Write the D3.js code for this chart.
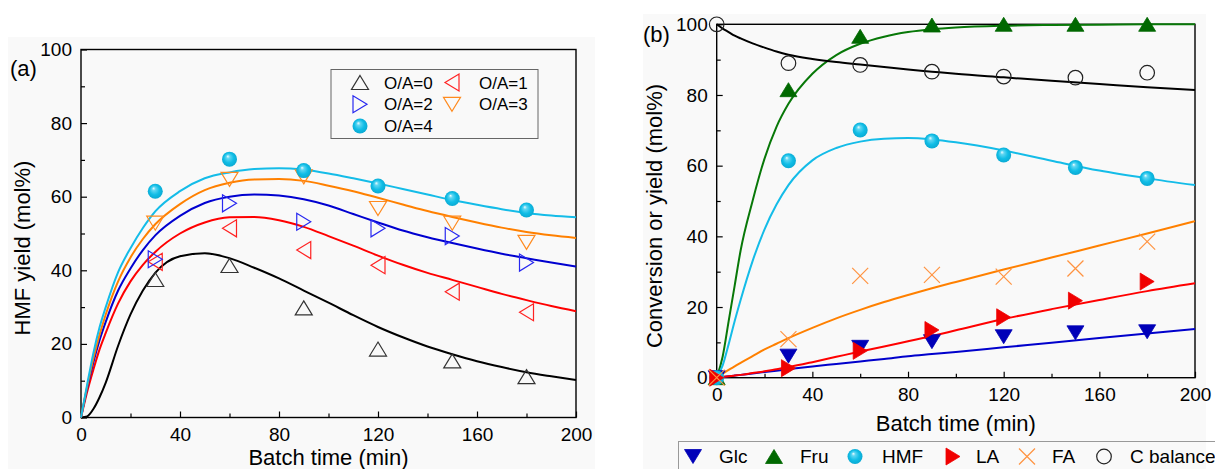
<!DOCTYPE html>
<html>
<head>
<meta charset="utf-8">
<script src="https://cdn.jsdelivr.net/npm/d3@7"></script>
<style>
  body { margin: 0; background: #fff; }
  svg { display: block; font-family: "Liberation Sans", Arial, sans-serif; }
</style>
</head>
<body>
<svg id="chart" width="1215" height="469"></svg>
<script>
// ---------- Panel (a): HMF yield at different O/A ratios ----------
const timeA = [30, 60, 90, 120, 150, 180];
const oa0 = [37.5, 41.3, 29.8, 18.6, 15.4, 11.1];
const oa1 = [42.3, 51.4, 45.5, 41.4, 34.2, 28.6];
const oa2 = [43.0, 58.2, 53.2, 51.4, 49.3, 42.1];
const oa3 = [52.8, 64.7, 65.4, 56.8, 52.8, 47.6];
const oa4 = [61.5, 70.2, 67.1, 62.9, 59.5, 56.4];

// kinetic-model curves for panel (a)
const fitTimeA = [0, 2.5, 5, 7.5, 10, 15, 20, 25, 30, 40, 50, 60, 70, 80, 90, 100, 110, 120, 130, 140, 150, 160, 170, 180, 190, 200];
const fitOA0 = [0, 0.3, 2.3, 5.5, 9.5, 19.5, 28, 34.5, 39.3, 43.8, 44.6, 43.3, 40.7, 37.8, 34.5, 31.2, 27.8, 24.6, 21.8, 19.3, 17.2, 15.3, 13.7, 12.3, 11.2, 10.2];
const fitOA1 = [0, 7, 13, 18.5, 23, 31, 37, 41.5, 45, 50, 53, 54.4, 54.5, 53.6, 51.8, 49.3, 46.7, 44, 41.5, 39.3, 37.4, 35.5, 33.6, 31.9, 30.3, 28.9];
const fitOA2 = [0, 8, 15, 21, 26, 34.5, 40.5, 45.5, 49.5, 54.8, 58.3, 60, 60.6, 60.3, 59.3, 57.6, 55.3, 53, 50.8, 49, 47.4, 45.9, 44.5, 43.3, 42.1, 41];
const fitOA3 = [0, 8.5, 16, 22.5, 28, 37, 43.5, 48.5, 52.5, 58, 61.8, 63.8, 64.7, 64.8, 64.3, 63, 61.5, 59.7, 57.9, 56.1, 54.5, 53, 51.6, 50.4, 49.5, 48.8];
const fitOA4 = [0, 9, 17.5, 24.5, 30, 39.5, 46, 51.5, 56, 61.5, 65, 66.6, 67.5, 67.7, 67.3, 66.3, 65, 63.6, 62.1, 60.6, 59.1, 57.8, 56.6, 55.6, 54.9, 54.4];
const legendA = ["O/A=0", "O/A=1", "O/A=2", "O/A=3", "O/A=4"];

// ---------- Panel (b): conversion and yields at O/A=4 ----------
const timeB = [0, 30, 60, 90, 120, 150, 180];
const glc = [0, 6.1, 8.6, 10.2, 11.6, 12.7, 13.0];
const fru = [0, 81.5, 96.6, 99.8, 100, 100, 100];
const hmf = [0, 61.4, 70.1, 67.0, 63.0, 59.5, 56.4];
const la = [0, 2.7, 7.6, 13.5, 17.1, 21.8, 27.2];
const fa = [0, 10.9, 28.8, 29.1, 28.6, 30.9, 38.5];
const cBalance = [100, 89.0, 88.5, 86.6, 85.2, 84.9, 86.3];

const fitTimeB = [0, 2.5, 5, 7.5, 10, 15, 20, 25, 30, 40, 50, 60, 70, 80, 90, 100, 120, 140, 160, 180, 200];
const fitGlc = [0, 0.2, 0.4, 0.6, 0.8, 1.2, 1.6, 2.0, 2.4, 3.2, 3.9, 4.6, 5.3, 6.1, 6.7, 7.3, 8.6, 9.9, 11.2, 12.5, 13.8];
const fitFru = [0, 6, 16, 26, 36, 50, 62, 71, 77.5, 86, 91.3, 94.5, 96.5, 97.8, 98.6, 99.1, 99.6, 99.8, 99.9, 100, 100];
const fitHmf = [0, 3.5, 9.5, 16, 22, 33, 42, 49, 54.5, 61.5, 65, 66.8, 67.6, 67.8, 67.4, 66.6, 64.3, 61.4, 58.6, 56.4, 54.5];
const fitLa = [0, 0.2, 0.4, 0.6, 0.8, 1.3, 1.8, 2.4, 3.0, 4.4, 5.9, 7.4, 8.8, 10.3, 11.8, 13.4, 16.6, 19.4, 22.0, 24.5, 26.7];
const fitFa = [0, 1.1, 2.2, 3.2, 4.2, 6.1, 8.0, 9.6, 11.2, 14.1, 16.8, 19.2, 21.4, 23.4, 25.3, 27.1, 30.6, 34.0, 37.4, 40.8, 44.3];
const fitCb = [100, 98.8, 97.8, 96.8, 96, 94.6, 93.4, 92.3, 91.4, 90.2, 89.3, 88.6, 87.9, 87.2, 86.6, 86, 85, 84, 83.1, 82.2, 81.4];
const legendB = ["Glc", "Fru", "HMF", "LA", "FA", "C balance"];

// axis ticks
const xMajor = [0, 40, 80, 120, 160, 200];
const xMinor = [20, 60, 100, 140, 180];
const yMajor = [0, 20, 40, 60, 80, 100];
const yMinor = [10, 30, 50, 70, 90];

const svg = d3.select("#chart");

// sphere gradient for the HMF markers
const defs = svg.append("defs");
const grad = defs.append("radialGradient").attr("id", "sphere")
  .attr("cx", "0.5").attr("cy", "0.5").attr("r", "0.55")
  .attr("fx", "0.38").attr("fy", "0.3");
grad.append("stop").attr("offset", "0%").attr("stop-color", "#f2fdff");
grad.append("stop").attr("offset", "22%").attr("stop-color", "#5fd6f2");
grad.append("stop").attr("offset", "60%").attr("stop-color", "#10bde6");
grad.append("stop").attr("offset", "100%").attr("stop-color", "#0aa6cf");

// marker shapes, centred on their bounding box
function markerPath(type) {
  const b = 8.5, h = 7;   // half base, half height
  switch (type) {
    case "up": return `M0,${-h}L${b},${h}L${-b},${h}Z`;
    case "down": return `M0,${h}L${b},${-h}L${-b},${-h}Z`;
    case "left": return `M${-h},0L${h},${-b}L${h},${b}Z`;
    case "right": return `M${h},0L${-h},${-b}L${-h},${b}Z`;
    case "cross": return "M-8,-8L8,8M-8,8L8,-8";
  }
}

function drawMarker(g, type, color, filled, cx, cy) {
  if (type === "sphere") {
    g.append("circle").attr("cx", cx).attr("cy", cy).attr("r", 7.5)
      .attr("fill", "url(#sphere)");
  } else if (type === "circle") {
    g.append("circle").attr("cx", cx).attr("cy", cy).attr("r", 7.3)
      .attr("fill", "none").attr("stroke", color).attr("stroke-width", 1.2);
  } else {
    g.append("path").attr("d", markerPath(type))
      .attr("transform", `translate(${cx},${cy})`)
      .attr("fill", filled ? color : "none")
      .attr("stroke", color)
      .attr("stroke-width", filled ? 0.8 : 1.2);
  }
}

function panel(cfg) {
  const g = svg.append("g");
  g.append("rect").attr("x", cfg.bg[0]).attr("y", cfg.bg[1])
    .attr("width", cfg.bg[2]).attr("height", cfg.bg[3]).attr("fill", "#f9f9f9");

  const x = d3.scaleLinear().domain([0, 200]).range([cfg.left, cfg.right]);
  const y = d3.scaleLinear().domain([0, 100]).range([cfg.bottom, cfg.top]);

  const style = a => a.call(s => s.select(".domain").remove())
    .call(s => s.selectAll("line").attr("stroke", "#000").attr("stroke-width", 1.2))
    .call(s => s.selectAll("text").attr("font-size", 19).attr("fill", "#000")
      .attr("font-family", "Liberation Sans, Arial, sans-serif"));

  g.append("g").attr("transform", `translate(0,${cfg.bottom})`)
    .call(d3.axisBottom(x).tickValues(xMajor).tickSizeInner(-6).tickSizeOuter(0)
      .tickPadding(10).tickFormat(d3.format("d"))).call(style);
  g.append("g").attr("transform", `translate(0,${cfg.bottom})`)
    .call(d3.axisBottom(x).tickValues(xMinor).tickSizeInner(-4).tickSizeOuter(0)
      .tickFormat("")).call(style);
  g.append("g").attr("transform", `translate(${cfg.left},0)`)
    .call(d3.axisLeft(y).tickValues(yMajor).tickSizeInner(-6).tickSizeOuter(0)
      .tickPadding(9).tickFormat(d3.format("d"))).call(style);
  g.append("g").attr("transform", `translate(${cfg.left},0)`)
    .call(d3.axisLeft(y).tickValues(yMinor).tickSizeInner(-4).tickSizeOuter(0)
      .tickFormat("")).call(style);

  // frame
  g.append("rect").attr("x", cfg.left).attr("y", cfg.top)
    .attr("width", cfg.right - cfg.left).attr("height", cfg.bottom - cfg.top)
    .attr("fill", "none").attr("stroke", "#000").attr("stroke-width", 1.4);

  // axis titles and panel tag
  g.append("text").attr("x", (cfg.left + cfg.right) / 2).attr("y", cfg.xTitleY)
    .attr("text-anchor", "middle").attr("font-size", 22).text("Batch time (min)");
  g.append("text").attr("transform", `translate(${cfg.yTitleX},${cfg.yTitleY}) rotate(-90)`)
    .attr("text-anchor", "middle").attr("font-size", 22).text(cfg.yTitle);
  g.append("text").attr("x", cfg.tag[0]).attr("y", cfg.tag[1])
    .attr("font-size", 22).text(cfg.tag[2]);

  const line = d3.line().x(d => x(d[0])).y(d => y(d[1])).curve(d3.curveMonotoneX);
  cfg.series.forEach(s => {
    g.append("path").datum(d3.zip(s.fitT, s.fit))
      .attr("d", line).attr("fill", "none")
      .attr("stroke", s.lineColor).attr("stroke-width", 2);
  });
  const mg = g.append("g");
  cfg.series.forEach(s => {
    d3.zip(s.t, s.v).forEach(([t, v]) =>
      drawMarker(mg, s.marker, s.color, s.filled, x(t), y(v)));
  });
  return g;
}

// ----- panel (a) -----
const gA = panel({
  bg: [8, 37, 587, 432],
  left: 81, right: 576, top: 49.5, bottom: 417.5,
  xTitleY: 465, yTitleX: 30, yTitleY: 248, yTitle: "HMF yield (mol%)",
  tag: [10, 76, "(a)"],
  series: [
    { t: timeA, v: oa0, fitT: fitTimeA, fit: fitOA0, marker: "up", color: "#333", lineColor: "#000", filled: false },
    { t: timeA, v: oa1, fitT: fitTimeA, fit: fitOA1, marker: "left", color: "#f22", lineColor: "#f00", filled: false },
    { t: timeA, v: oa2, fitT: fitTimeA, fit: fitOA2, marker: "right", color: "#2828f0", lineColor: "#0000d0", filled: false },
    { t: timeA, v: oa3, fitT: fitTimeA, fit: fitOA3, marker: "down", color: "#ff8a1e", lineColor: "#ff8000", filled: false },
    { t: timeA, v: oa4, fitT: fitTimeA, fit: fitOA4, marker: "sphere", color: "#10bde6", lineColor: "#14bce8", filled: true }
  ]
});

// legend (a)
const legA = gA.append("g");
legA.append("rect").attr("x", 331).attr("y", 69.5).attr("width", 207).attr("height", 69)
  .attr("fill", "none").attr("stroke", "#666").attr("stroke-width", 1);
const legAItems = [
  { m: "up", c: "#333", mx: 360, tx: 384, y: 82.5 },
  { m: "left", c: "#f22", mx: 452, tx: 479, y: 82.5 },
  { m: "right", c: "#2828f0", mx: 360, tx: 384, y: 104.3 },
  { m: "down", c: "#ff8a1e", mx: 452, tx: 479, y: 104.3 },
  { m: "sphere", c: "#10bde6", mx: 360, tx: 384, y: 126 }
];
legAItems.forEach((it, i) => {
  drawMarker(legA, it.m, it.c, false, it.mx, it.y);
  legA.append("text").attr("x", it.tx).attr("y", it.y).attr("dy", "0.36em")
    .attr("font-size", 17).text(legendA[i]);
});

// ----- panel (b) -----
const gB = panel({
  bg: [643, 14, 563, 455],
  left: 716.7, right: 1195, top: 24.3, bottom: 377.7,
  xTitleY: 431, yTitleX: 662, yTitleY: 216, yTitle: "Conversion or yield (mol%)",
  tag: [643, 42, "(b)"],
  series: [
    { t: timeB, v: glc, fitT: fitTimeB, fit: fitGlc, marker: "down", color: "#0000b8", lineColor: "#0000cc", filled: true },
    { t: timeB, v: fru, fitT: fitTimeB, fit: fitFru, marker: "up", color: "#006800", lineColor: "#087808", filled: true },
    { t: timeB, v: hmf, fitT: fitTimeB, fit: fitHmf, marker: "sphere", color: "#10bde6", lineColor: "#14bce8", filled: true },
    { t: timeB, v: la, fitT: fitTimeB, fit: fitLa, marker: "right", color: "#f00000", lineColor: "#f00", filled: true },
    { t: timeB, v: fa, fitT: fitTimeB, fit: fitFa, marker: "cross", color: "#ff9340", lineColor: "#ff8000", filled: false },
    { t: timeB, v: cBalance, fitT: fitTimeB, fit: fitCb, marker: "circle", color: "#222", lineColor: "#000", filled: false }
  ]
});

// legend (b)
const legB = gB.append("g");
legB.append("rect").attr("x", 678.5).attr("y", 441.5).attr("width", 560).attr("height", 40)
  .attr("fill", "none").attr("stroke", "#999").attr("stroke-width", 1);
const legBItems = [
  { m: "down", c: "#0000b8", f: true, mx: 693, tx: 719 },
  { m: "up", c: "#006800", f: true, mx: 774, tx: 800 },
  { m: "sphere", c: "#10bde6", f: true, mx: 855, tx: 882 },
  { m: "right", c: "#f00000", f: true, mx: 953, tx: 976 },
  { m: "cross", c: "#ff9340", f: false, mx: 1027, tx: 1052 },
  { m: "circle", c: "#222", f: false, mx: 1104, tx: 1130 }
];
legBItems.forEach((it, i) => {
  drawMarker(legB, it.m, it.c, it.f, it.mx, 456.5);
  legB.append("text").attr("x", it.tx).attr("y", 456.5).attr("dy", "0.36em")
    .attr("font-size", 19).text(legendB[i]);
});
</script>
</body>
</html>
